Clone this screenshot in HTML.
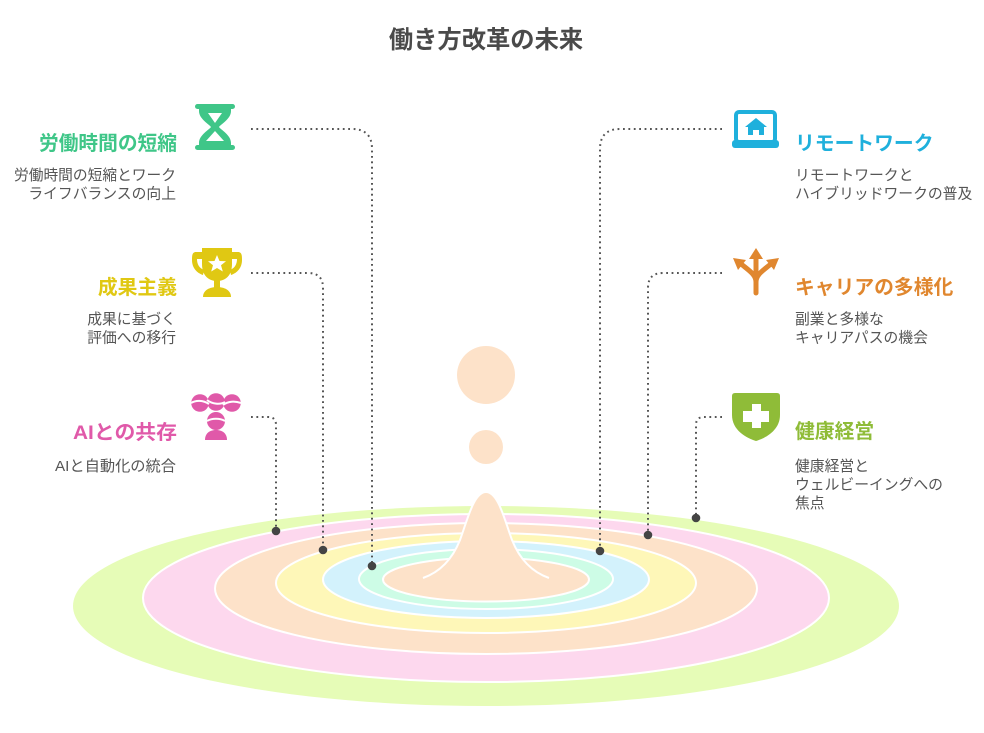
<!DOCTYPE html>
<html><head><meta charset="utf-8"><style>
html,body{margin:0;padding:0;background:#fff;}
svg{display:block;}
text{font-family:"Liberation Sans","Noto Sans CJK JP",sans-serif;}
</style></head><body>
<svg width="984" height="733" viewBox="0 0 984 733" xmlns="http://www.w3.org/2000/svg">
<rect width="984" height="733" fill="#fff"/>
<!-- title -->
<text x="486" y="48" text-anchor="middle" font-size="24.3" font-weight="bold" fill="#4a4a4a">働き方改革の未来</text>

<!-- ripple ellipses -->
<ellipse cx="486" cy="606" rx="413" ry="100" fill="#e6fcb7"/>
<ellipse cx="486" cy="598" rx="343" ry="84" fill="#fdd8ee" stroke="#fff" stroke-width="2"/>
<ellipse cx="486" cy="588.5" rx="271" ry="65.5" fill="#fde2c9" stroke="#fff" stroke-width="2"/>
<ellipse cx="486" cy="583" rx="210" ry="50" fill="#fef7b8" stroke="#fff" stroke-width="2"/>
<ellipse cx="486" cy="579.5" rx="163" ry="38.5" fill="#d3f2fc" stroke="#fff" stroke-width="2"/>
<ellipse cx="486" cy="579" rx="127" ry="30" fill="#cdfce6" stroke="#fff" stroke-width="2"/>
<ellipse cx="486" cy="579.5" rx="103" ry="22" fill="#fde2c9" stroke="#fff" stroke-width="2"/>
<!-- bell peak -->
<path d="M423 578 C440 572 452 560 460 540 C468 518 474 492 486 492 C498 492 504 518 512 540 C520 560 532 572 549 578 Z" fill="#fde2c9"/>
<path d="M423 578 C440 572 452 560 460 540 C468 518 474 492 486 492 C498 492 504 518 512 540 C520 560 532 572 549 578" fill="none" stroke="#fff" stroke-width="2"/>
<!-- drops -->
<circle cx="486" cy="375" r="29" fill="#fde2c9"/>
<circle cx="486" cy="447" r="17" fill="#fde2c9"/>

<!-- connectors -->
<g fill="none" stroke="#555" stroke-width="2" stroke-dasharray="1.8 3.6">
<path d="M251 129 H352 Q372 129 372 149 V566"/>
<path d="M251 273 H308 Q323 273 323 288 V550"/>
<path d="M251 417 H268 Q276 417 276 425 V531"/>
<path d="M722 129 H620 Q600 129 600 149 V551"/>
<path d="M722 273 H663 Q648 273 648 288 V535"/>
<path d="M722 417 H704 Q696 417 696 425 V518"/>
</g>
<g fill="#444">
<circle cx="372" cy="566" r="4.3"/>
<circle cx="323" cy="550" r="4.3"/>
<circle cx="276" cy="531" r="4.3"/>
<circle cx="600" cy="551" r="4.3"/>
<circle cx="648" cy="535" r="4.3"/>
<circle cx="696" cy="518" r="4.3"/>
</g>

<!-- hourglass icon -->
<g fill="#3fc688">
<rect x="195" y="104" width="40" height="5" rx="2.5"/>
<rect x="195" y="145" width="40" height="5" rx="2.5"/>
<path d="M199 108 L231 108 L231 111 C231 119 221 124 219 127 C221 130 231 135 231 143 L231 146 L199 146 L199 143 C199 135 209 130 211 127 C209 124 199 119 199 111 Z"/>
</g>
<path d="M208 113 L222 113 L215 123 Z" fill="#fff"/>
<path d="M215 131 L224 141 L206 141 Z" fill="#fff"/>

<!-- trophy icon -->
<g fill="#e0c813">
<path d="M202 248 H232 V264 C232 275 226 281 217 281 C208 281 202 275 202 264 Z"/>
<path d="M202 252 H196 C192 252 192 256 192 260 C192 268 197 273 203 275 L204 270 C199 268 197 264 197 259 H202 Z"/>
<path d="M232 252 H238 C242 252 242 256 242 260 C242 268 237 273 231 275 L230 270 C235 268 237 264 237 259 H232 Z"/>
<rect x="214" y="279" width="6" height="10"/>
<path d="M203 297 C203 290 210 287 217 287 C224 287 231 290 231 297 Z"/>
</g>
<path d="M217 255 L219.5 261 L226 261.3 L221 265.3 L222.8 271.5 L217 268 L211.2 271.5 L213 265.3 L208 261.3 L214.5 261 Z" fill="#fff"/>

<!-- AI icon -->
<g fill="#e059a9">
<circle cx="200" cy="403" r="8.8"/>
<circle cx="216" cy="402" r="8.8"/>
<circle cx="232" cy="403" r="8.8"/>
<circle cx="216" cy="421" r="9"/>
<path d="M205 440 C205 433 210 430 216 430 C222 430 227 433 227 440 Z"/>
</g>
<g fill="none" stroke="#fff" stroke-width="2">
<path d="M191 403 C196 400 203 400 209 404"/>
<path d="M207 400 C212 404 220 405 225 402"/>
<path d="M223 405 C228 401 235 401 241 403"/>
<path d="M207 421 C212 418 220 418 225 421"/>
</g>

<!-- laptop icon -->
<rect x="736" y="112" width="39" height="30" rx="3" fill="none" stroke="#1fb0dc" stroke-width="4"/>
<rect x="732" y="140" width="47" height="8" rx="3" fill="#1fb0dc"/>
<path d="M756 118 L767 127 H764 V135 H759 V130 H753 V135 H748 V127 H745 Z" fill="#1fb0dc"/>

<!-- arrows icon -->
<g fill="none" stroke="#e0872f" stroke-width="5" stroke-linecap="round">
<path d="M756 293 V257"/>
<path d="M756 282 C756 274 748 270 740 263"/>
<path d="M756 282 C756 274 764 270 772 263"/>
</g>
<g fill="#e0872f">
<path d="M756 248 L763 259 H749 Z"/>
<path d="M733 258 L746 260 L738 270 Z"/>
<path d="M779 258 L766 260 L774 270 Z"/>
</g>

<!-- shield icon -->
<path d="M732 396 Q732 393 735 393 H777 Q780 393 780 396 V415 C780 430 766 438 756 441 C746 438 732 430 732 415 Z" fill="#8fbc38"/>
<path d="M752 404 H761 V411 H769 V422 H761 V428 H752 V422 H743 V411 H752 Z" fill="#fff"/>

<!-- left labels -->
<g text-anchor="end">
<text x="177" y="150" font-size="19.8" font-weight="bold" fill="#3fc688" textLength="138" lengthAdjust="spacingAndGlyphs">労働時間の短縮</text>
<text x="176" y="180" font-size="14.8" fill="#555" textLength="162" lengthAdjust="spacingAndGlyphs">労働時間の短縮とワーク</text>
<text x="176" y="198.5" font-size="14.8" fill="#555">ライフバランスの向上</text>

<text x="177" y="294" font-size="19.8" font-weight="bold" fill="#e0c813">成果主義</text>
<text x="176" y="324" font-size="14.8" fill="#555">成果に基づく</text>
<text x="176" y="342.5" font-size="14.8" fill="#555">評価への移行</text>

<text x="177" y="439" font-size="19.8" font-weight="bold" fill="#e059a9" textLength="104" lengthAdjust="spacingAndGlyphs">AIとの共存</text>
<text x="176" y="471" font-size="14.8" fill="#555" textLength="121" lengthAdjust="spacingAndGlyphs">AIと自動化の統合</text>
</g>

<!-- right labels -->
<text x="795" y="150" font-size="19.8" font-weight="bold" fill="#1fb0dc">リモートワーク</text>
<text x="795" y="180" font-size="14.8" fill="#555">リモートワークと</text>
<text x="795" y="198.5" font-size="14.8" fill="#555">ハイブリッドワークの普及</text>

<text x="795" y="294" font-size="19.8" font-weight="bold" fill="#e0872f">キャリアの多様化</text>
<text x="795" y="324" font-size="14.8" fill="#555">副業と多様な</text>
<text x="795" y="342.5" font-size="14.8" fill="#555">キャリアパスの機会</text>

<text x="795" y="438" font-size="19.8" font-weight="bold" fill="#8fbc38">健康経営</text>
<text x="795" y="471" font-size="14.8" fill="#555">健康経営と</text>
<text x="795" y="489.5" font-size="14.8" fill="#555">ウェルビーイングへの</text>
<text x="795" y="508" font-size="14.8" fill="#555">焦点</text>
</svg>
</body></html>
